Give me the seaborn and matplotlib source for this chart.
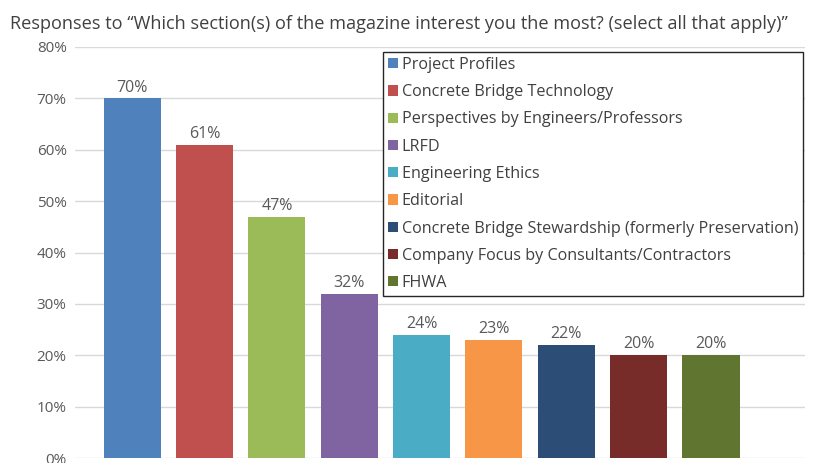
import matplotlib
matplotlib.use("Agg")
import matplotlib.pyplot as plt
import seaborn as sns
import pandas as pd
from matplotlib.patches import Patch

categories = [
    "Project Profiles",
    "Concrete Bridge Technology",
    "Perspectives by Engineers/Professors",
    "LRFD",
    "Engineering Ethics",
    "Editorial",
    "Concrete Bridge Stewardship (formerly Preservation)",
    "Company Focus by Consultants/Contractors",
    "FHWA",
]
values = [70, 61, 47, 32, 24, 23, 22, 20, 20]
colors = ["#4F81BD", "#C0504D", "#9BBB59", "#8064A2", "#4BACC6",
          "#F79646", "#2C4D75", "#772C2A", "#5F7530"]
yticks = [0, 10, 20, 30, 40, 50, 60, 70, 80]
title = "Responses to \u201cWhich section(s) of the magazine interest you the most? (select all that apply)\u201d"

sns.set_theme(style="white")
plt.rcParams["font.family"] = ["Open Sans", "DejaVu Sans"]

df = pd.DataFrame({"cat": categories, "val": values})
fig = plt.figure(figsize=(8.14, 4.63), dpi=100)
ax = fig.add_axes([75/814, 5/463, 730/814, 411/463])

sns.barplot(data=df, x="cat", y="val", hue="cat", palette=colors,
            order=categories, hue_order=categories, dodge=False,
            width=0.79, legend=False, ax=ax, saturation=1, linewidth=0)

ax.set_ylim(0, 80)
ax.set_xlim(-0.79, 9.3)
ax.set_yticks(yticks)
ax.set_yticklabels([f"{t}%" for t in yticks], color="#595959", fontsize=11)
ax.yaxis.grid(True, color="#D9D9D9", linewidth=1)
ax.set_axisbelow(True)
ax.set_xticks([])
ax.set_xlabel("")
ax.set_ylabel("")
ax.tick_params(axis="y", length=0, pad=6)
for s in ax.spines.values():
    s.set_visible(False)

for cont in ax.containers:
    ax.bar_label(cont, fmt="%d%%", color="#595959", fontsize=11.5, padding=2)

handles = [Patch(facecolor=c, edgecolor="none") for c in colors]
leg = ax.legend(handles, categories, loc="upper left",
                bbox_to_anchor=((383-75)/730, (463-5-52)/411),
                bbox_transform=ax.transAxes,
                frameon=True, fancybox=False, framealpha=1,
                fontsize=11.6, handlelength=0.6, handleheight=0.6,
                handletextpad=0.25, labelspacing=0.70, borderpad=0.3,
                borderaxespad=0)
leg.get_frame().set_edgecolor("#262626")
leg.get_frame().set_linewidth(1.0)
for t in leg.get_texts():
    t.set_color("#404040")

fig.text(10/814, 1 - 24/463, title, fontsize=13.1, color="#404040",
         va="center", ha="left")

fig.savefig("out.png", dpi=100)
